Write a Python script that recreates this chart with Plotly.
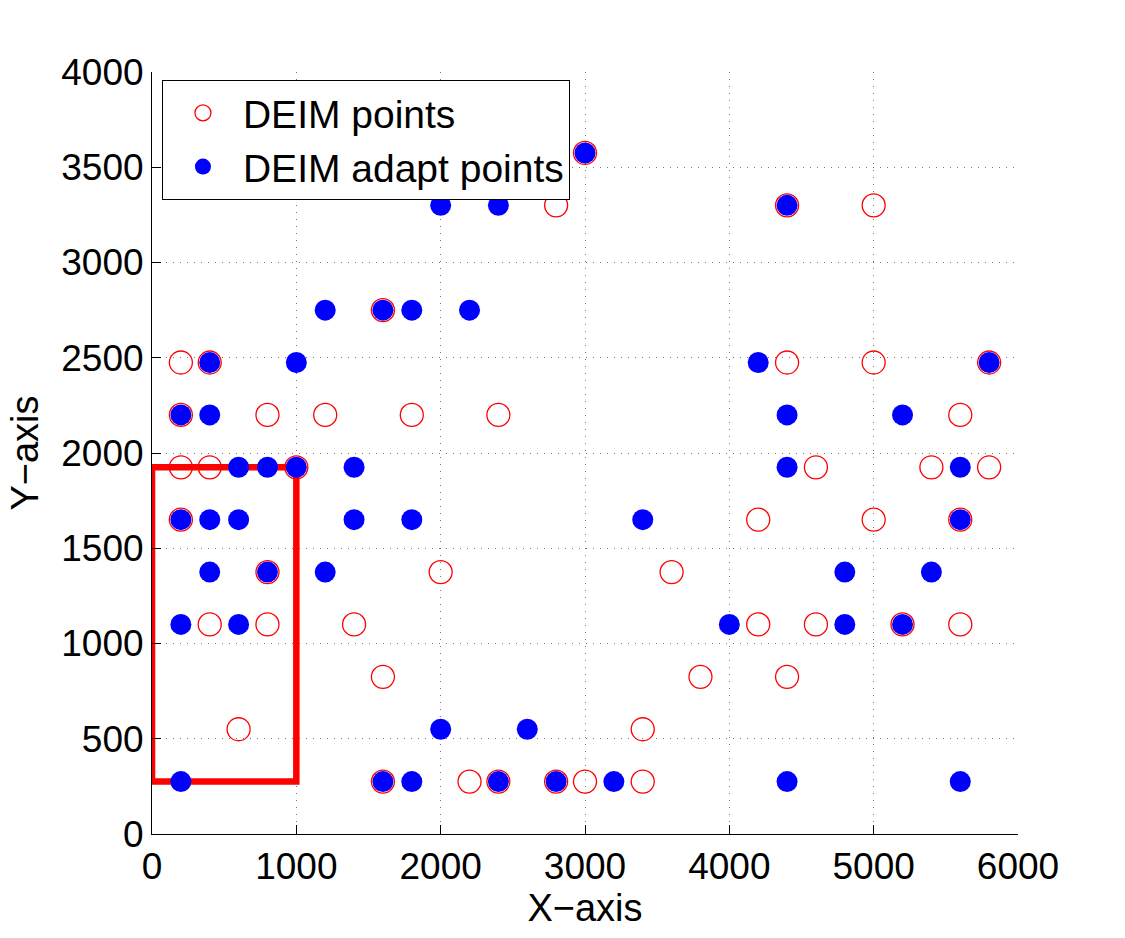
import plotly.graph_objects as go

# DEIM points (red open circles)
deim_x = [3000,
          2800, 4400, 5000,
          1600,
          200, 400, 4400, 5000, 5800,
          200, 800, 1200, 1800, 2400, 5600,
          200, 400, 1000, 4600, 5400, 5800,
          200, 4200, 5000, 5600,
          800, 2000, 3600,
          400, 800, 1400, 4200, 4600, 5200, 5600,
          1600, 3800, 4400,
          600, 3400,
          1600, 2200, 2400, 2800, 3000, 3400]
deim_y = [3575,
          3300, 3300, 3300,
          2750,
          2475, 2475, 2475, 2475, 2475,
          2200, 2200, 2200, 2200, 2200, 2200,
          1925, 1925, 1925, 1925, 1925, 1925,
          1650, 1650, 1650, 1650,
          1375, 1375, 1375,
          1100, 1100, 1100, 1100, 1100, 1100, 1100,
          825, 825, 825,
          550, 550,
          275, 275, 275, 275, 275, 275]

# DEIM adapt points (blue filled circles)
adapt_x = [3000,
           2000, 2400, 4400,
           1200, 1600, 1800, 2200,
           400, 1000, 4200, 5800,
           200, 400, 4400, 5200,
           600, 800, 1000, 1400, 4400, 5600,
           200, 400, 600, 1400, 1800, 3400, 5600,
           400, 800, 1200, 4800, 5400,
           200, 600, 4000, 4800, 5200,
           2000, 2600,
           200, 1600, 1800, 2400, 2800, 3200, 4400, 5600]
adapt_y = [3575,
           3300, 3300, 3300,
           2750, 2750, 2750, 2750,
           2475, 2475, 2475, 2475,
           2200, 2200, 2200, 2200,
           1925, 1925, 1925, 1925, 1925, 1925,
           1650, 1650, 1650, 1650, 1650, 1650, 1650,
           1375, 1375, 1375, 1375, 1375,
           1100, 1100, 1100, 1100, 1100,
           550, 550,
           275, 275, 275, 275, 275, 275, 275, 275]

# highlighted region
box_x0, box_x1 = 0, 1000
box_y0, box_y1 = 275, 1925

x_ticks = [0, 1000, 2000, 3000, 4000, 5000, 6000]
y_ticks = [0, 500, 1000, 1500, 2000, 2500, 3000, 3500, 4000]

FONT = "Liberation Sans, Arial, Helvetica, sans-serif"

fig = go.Figure()

fig.add_trace(go.Scatter(
    x=[box_x0, box_x1, box_x1, box_x0, box_x0],
    y=[box_y0, box_y0, box_y1, box_y1, box_y0],
    mode="lines", line=dict(color="#ff0000", width=6.5),
    showlegend=False, hoverinfo="skip", cliponaxis=False))

fig.add_trace(go.Scatter(
    x=deim_x, y=deim_y, mode="markers", name="DEIM points",
    marker=dict(symbol="circle-open", size=23, color="#ff0000",
                line=dict(color="#ff0000", width=1.3)),
    cliponaxis=False))

fig.add_trace(go.Scatter(
    x=adapt_x, y=adapt_y, mode="markers", name="DEIM adapt points",
    marker=dict(symbol="circle", size=21, color="#0000ff",
                line=dict(width=0)),
    cliponaxis=False))

axis_common = dict(
    showline=True, linecolor="black", linewidth=1,
    ticks="inside", ticklen=9, tickcolor="black", tickwidth=1,
    showgrid=True, gridcolor="#777777", griddash="1px,6px", gridwidth=1,
    zeroline=False, mirror=False,
    tickfont=dict(family=FONT, size=37, color="black"),
)

fig.update_xaxes(range=[0, 6000], tickvals=x_ticks,
                 ticktext=[str(v) for v in x_ticks],
                 title=dict(text="X\u2212axis", font=dict(family=FONT, size=38, color="black"), standoff=4),
                 **axis_common)
fig.update_yaxes(range=[0, 4000], tickvals=y_ticks,
                 ticktext=[str(v) for v in y_ticks],
                 title=dict(text="Y\u2212axis", font=dict(family=FONT, size=38, color="black"), standoff=10),
                 **axis_common)

fig.update_layout(
    width=1125, height=938,
    margin=dict(l=152, r=107, t=72, b=104),
    paper_bgcolor="white", plot_bgcolor="white",
    font=dict(family=FONT, color="black"),
    legend=dict(x=0.0115, y=0.9895, xanchor="left", yanchor="top",
                bgcolor="white", bordercolor="black", borderwidth=1,
                font=dict(family=FONT, size=39, color="black"),
                itemwidth=70, tracegroupgap=0),
)

fig.write_html("out.html")
